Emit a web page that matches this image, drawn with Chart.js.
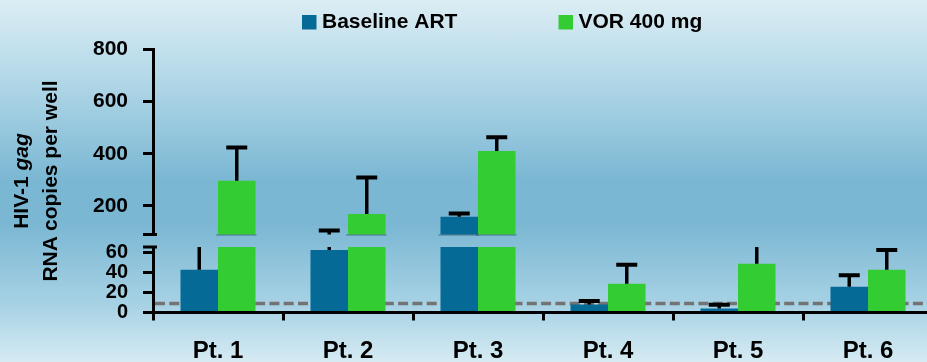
<!DOCTYPE html>
<html>
<head>
<meta charset="utf-8">
<script src="https://cdn.jsdelivr.net/npm/chart.js@4/dist/chart.umd.min.js"></script>
<style>
  html, body { margin: 0; padding: 0; width: 927px; height: 362px; overflow: hidden; }
  body {
    position: relative;
    background: linear-gradient(to bottom, #dcedf4 0%, #b6dae9 20%, #7ab7d3 50%, #7bb7d3 62%, #a9d3e5 85%, #d6ebf3 100%);
    font-family: 'Liberation Sans', Arial, sans-serif;
  }
  #upper { position: absolute; left: 0; top: 0; }
  #lower { position: absolute; left: 0; top: 222px; }
  #ytitle {
    position: absolute; left: -76px; top: 151px; width: 224px; height: 60px;
    transform: rotate(-90deg); text-align: center;
    font: bold 21px 'Liberation Sans', Arial, sans-serif; line-height: 29px; color: #000;
    white-space: nowrap;
  }
</style>
</head>
<body>
<canvas id="upper" width="940" height="260"></canvas>
<canvas id="lower" width="940" height="140"></canvas>
<div id="ytitle">HIV-1 <i>gag</i><br>RNA copies per well</div>
<script>
// ---- data ----
const categories = ['Pt. 1', 'Pt. 2', 'Pt. 3', 'Pt. 4', 'Pt. 5', 'Pt. 6'];
const seriesNames = ['Baseline ART', 'VOR 400 mg'];
const baselineART = [43, 63, 158, 8, 4, 26];
const baselineErr = [35, 42, 13, 3.5, 3.8, 11.6];
const vor400 = [296, 169, 410, 29, 49, 43];
const vorErr = [128, 140, 53, 19, 29, 20];
const upperTicks = [200, 400, 600, 800];
const lowerTicks = [0, 20, 40, 60];
const upperRange = [90, 800];
const lowerRange = [0, 66];
const detectionLimit = 9;

const BLUE = '#056a96';
const GREEN = '#33cc33';
const FONT = "'Liberation Sans', Arial, sans-serif";
Chart.defaults.font.family = FONT;
Chart.defaults.font.weight = 'bold';
Chart.defaults.color = '#000';

function makeDatasets() {
  return [
    { label: seriesNames[0], data: baselineART, errors: baselineErr, backgroundColor: BLUE,
      borderWidth: 0, categoryPercentage: 0.577, barPercentage: 1.0 },
    { label: seriesNames[1], data: vor400, errors: vorErr, backgroundColor: GREEN,
      borderWidth: 0, categoryPercentage: 0.577, barPercentage: 1.0 }
  ];
}

const errorBarPlugin = {
  id: 'errorBars',
  afterDatasetsDraw(chart) {
    const ctx = chart.ctx, a = chart.chartArea, y = chart.scales.y;
    ctx.save();
    ctx.beginPath(); ctx.rect(a.left, a.top, a.right - a.left, a.bottom - a.top); ctx.clip();
    ctx.strokeStyle = '#000';
    chart.data.datasets.forEach((ds, i) => {
      const meta = chart.getDatasetMeta(i);
      meta.data.forEach((el, j) => {
        const v = ds.data[j], e = ds.errors[j];
        const yb = y.getPixelForValue(v), yt = y.getPixelForValue(v + e);
        ctx.lineWidth = 3.5;
        ctx.beginPath(); ctx.moveTo(el.x, yb); ctx.lineTo(el.x, yt); ctx.stroke();
        ctx.lineWidth = 4;
        ctx.beginPath(); ctx.moveTo(el.x - 10.5, yt); ctx.lineTo(el.x + 10.5, yt); ctx.stroke();
      });
    });
    ctx.restore();
  }
};

const breakPlugin = {
  id: 'axisBreak',
  afterDraw(chart, args, opts) {
    const ctx = chart.ctx, a = chart.chartArea;
    const yy = opts.edge === 'bottom' ? a.bottom : a.top;
    ctx.save();
    ctx.strokeStyle = '#000'; ctx.lineWidth = 3;
    ctx.beginPath(); ctx.moveTo(a.left - 10, yy); ctx.lineTo(a.left + 4, yy); ctx.stroke();
    if (opts.edge === 'bottom') {
      ctx.strokeStyle = 'rgba(20,60,70,0.55)'; ctx.lineWidth = 1.2;
      chart.data.datasets.forEach((ds, i) => {
        chart.getDatasetMeta(i).data.forEach((el, j) => {
          if (ds.data[j] > chart.scales.y.min) {
            ctx.beginPath(); ctx.moveTo(el.x - el.width / 2 - 2, yy + 0.5);
            ctx.lineTo(el.x + el.width / 2 + 1, yy + 0.5); ctx.stroke();
          }
        });
      });
    }
    ctx.restore();
  }
};

const limitPlugin = {
  id: 'limitLine',
  beforeDatasetsDraw(chart, args, opts) {
    if (!opts.show) return;
    const ctx = chart.ctx, a = chart.chartArea;
    const yy = chart.scales.y.getPixelForValue(detectionLimit);
    ctx.save();
    ctx.strokeStyle = '#737373'; ctx.lineWidth = 3.5; ctx.setLineDash([10, 4.3]);
    ctx.beginPath(); ctx.moveTo(a.left + 2, yy); ctx.lineTo(a.right, yy); ctx.stroke();
    ctx.restore();
  }
};

const legendPlugin = {
  id: 'customLegend',
  afterDraw(chart, args, opts) {
    if (!opts.show) return;
    const ctx = chart.ctx;
    const pos = [302, 558.5];
    ctx.save();
    ctx.font = 'bold 21px ' + FONT;
    ctx.textBaseline = 'middle';
    chart.data.datasets.forEach((ds, i) => {
      ctx.fillStyle = ds.backgroundColor;
      ctx.fillRect(pos[i], 15, 14.5, 14.5);
      ctx.fillStyle = '#000';
      ctx.fillText(ds.label, pos[i] + 20, 22.5);
    });
    ctx.restore();
  }
};

function yAxis(range, ticks, fontSize) {
  return {
    min: range[0], max: range[1],
    afterBuildTicks: s => { s.ticks = ticks.map(v => ({ value: v })); },
    afterFit: s => { s.width = 153; },
    border: { color: '#000', width: 3 },
    grid: { drawOnChartArea: false, drawTicks: true, tickLength: 10, color: '#000', lineWidth: 3 },
    ticks: { autoSkip: false, padding: 15, font: { size: fontSize, weight: 'bold', lineHeight: 1 }, color: '#000' }
  };
}

new Chart(document.getElementById('upper'), {
  type: 'bar',
  data: { labels: categories, datasets: makeDatasets() },
  plugins: [limitPlugin, errorBarPlugin, breakPlugin, legendPlugin],
  options: {
    responsive: false, animation: false,
    layout: { padding: { left: 0, right: 7, top: 49.5, bottom: 0 } },
    plugins: {
      legend: { display: false }, tooltip: { enabled: false },
      axisBreak: { edge: 'bottom' }, customLegend: { show: true }, limitLine: { show: false }
    },
    scales: {
      x: { display: false, offset: true },
      y: yAxis(upperRange, upperTicks, 21)
    }
  }
});

new Chart(document.getElementById('lower'), {
  type: 'bar',
  data: { labels: categories, datasets: makeDatasets() },
  plugins: [limitPlugin, errorBarPlugin, breakPlugin],
  options: {
    responsive: false, animation: false,
    layout: { padding: { left: 0, right: 7, top: 0, bottom: 0 } },
    plugins: {
      legend: { display: false }, tooltip: { enabled: false },
      axisBreak: { edge: 'top' }, limitLine: { show: true }
    },
    scales: {
      x: {
        offset: true,
        afterFit: s => { s.height = 49.5; },
        border: { color: '#000', width: 3 },
        grid: { offset: true, drawOnChartArea: false, drawTicks: true, tickLength: 8, color: '#000', lineWidth: 3 },
        ticks: { padding: 19, font: { size: 24, weight: 'bold', lineHeight: 1 }, color: '#000', maxRotation: 0 }
      },
      y: yAxis(lowerRange, lowerTicks, 20)
    }
  }
});
</script>
</body>
</html>
